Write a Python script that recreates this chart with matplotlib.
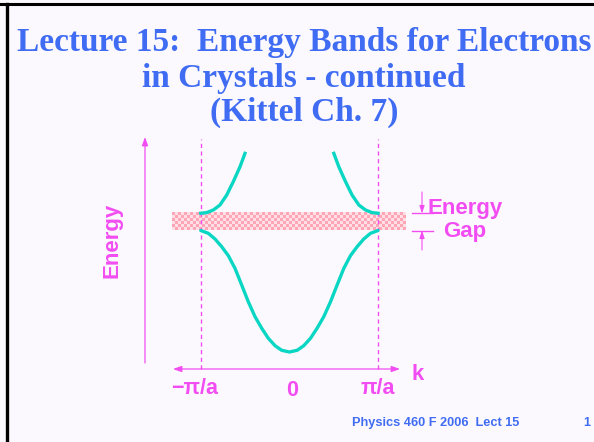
import numpy as np
import matplotlib
matplotlib.use("Agg")
import matplotlib.pyplot as plt
from matplotlib.lines import Line2D

# ---- data (k in units of pi/a, energy in arbitrary units) ----
lower_k = [-1.0, -0.915, -0.839, -0.764, -0.689, -0.614, -0.538, -0.464, -0.388,
           -0.312, -0.238, -0.162, -0.087, 0.0,
           0.087, 0.162, 0.238, 0.312, 0.388, 0.464, 0.538, 0.614, 0.689,
           0.764, 0.839, 0.915, 1.0]
lower_E = [1.0, 0.977, 0.930, 0.867, 0.793, 0.689, 0.551, 0.414, 0.291,
           0.195, 0.113, 0.052, 0.014, 0.0,
           0.014, 0.052, 0.113, 0.195, 0.291, 0.414, 0.551, 0.689, 0.793,
           0.867, 0.930, 0.977, 1.0]
upper_left_k = [-1.0, -0.933, -0.858, -0.783, -0.707, -0.633, -0.557, -0.501]
upper_left_E = [1.142, 1.147, 1.169, 1.210, 1.292, 1.402, 1.525, 1.635]
upper_right_k = [1.0, 0.933, 0.858, 0.783, 0.707, 0.633, 0.557, 0.501]
upper_right_E = [1.142, 1.147, 1.169, 1.210, 1.292, 1.402, 1.525, 1.635]
gap_bottom, gap_top = 1.0, 1.14
zone_edges = [-1.0, 1.0]
tick_k = [-1.0, 0.0, 1.0]
tick_labels = ["\u2212\u03c0/a", "0", "\u03c0/a"]

title_lines = ["Lecture 15:  Energy Bands for Electrons",
               "in Crystals - continued",
               "(Kittel Ch. 7)"]
footer_text = "Physics 460 F 2006  Lect 15"
page_number = "1"

# ---- style ----
BG = "#FCF9FE"
BLUE = "#3F6CF2"
MAG = "#F24DF2"
TEAL = "#0AD6C4"
PINK = np.array([255, 166, 182]) / 255
LIGHT = np.array([255, 222, 230]) / 255

W, H = 594, 442
fig = plt.figure(figsize=(W / 100, H / 100), dpi=100, facecolor=BG)

# frame (top and left edges)
fig.add_artist(Line2D([0, 1], [1 - 3.5 / H, 1 - 3.5 / H], color="black", lw=2.2,
                      transform=fig.transFigure))
fig.add_artist(Line2D([7 / W, 7 / W], [0, 1 - 3.5 / H], color="black", lw=2.4,
                      transform=fig.transFigure))

# title
serif = ["Liberation Serif", "DejaVu Serif"]
for i, (line, yy) in enumerate(zip(title_lines, [43, 79, 112])):
    fig.text(304 / W, 1 - yy / H, line, ha="center", va="center", color=BLUE,
             fontsize=24, fontweight="bold", family=serif)

# footer
sans = ["Liberation Sans", "DejaVu Sans"]
fig.text(436 / W, 1 - 423 / H, footer_text, ha="center", va="center", color=BLUE,
         fontsize=9.2, fontweight="bold", family=sans)
fig.text(587 / W, 1 - 423 / H, page_number, ha="center", va="center", color=BLUE,
         fontsize=9.2, fontweight="bold", family=sans)

# data axes: k -> x px = 289.4 + 88.65 k ; E -> y px = 352 - 121.5 E
x0, px_k = 289.4, 88.65
y0, px_E = 352.0, 121.5
klim = (-1.7, 1.35)
Elim = (-0.2, 1.8)
left = (x0 + klim[0] * px_k) / W
right = (x0 + klim[1] * px_k) / W
top = (y0 - Elim[1] * px_E)
bot = (y0 - Elim[0] * px_E)
ax = fig.add_axes([left, 1 - bot / H, right - left, (bot - top) / H])
ax.set_xlim(klim)
ax.set_ylim(Elim)
ax.axis("off")

# checkered gap band
band_k0, band_k1 = -1.324, 1.315
ncols = int(round((band_k1 - band_k0) * px_k / 3))
nrows = int(round((gap_top - gap_bottom) * px_E / 3))
ii, jj = np.indices((nrows, ncols))
mask = (ii + jj) % 2 == 0
img = np.where(mask[..., None], PINK, LIGHT)
ax.imshow(img, extent=[band_k0, band_k1, gap_bottom, gap_top], aspect="auto",
          interpolation="nearest", zorder=1, clip_on=False)

# zone-boundary dashed lines
for kk in zone_edges:
    ax.plot([kk, kk], [-0.14, 1.75], color=MAG, lw=1.0, ls=(0, (3, 2.5)), zorder=2,
            clip_on=False)

# bands
ax.plot(lower_k, lower_E, color=TEAL, lw=2.4, zorder=3, solid_capstyle="round")
ax.plot(upper_left_k, upper_left_E, color=TEAL, lw=2.4, zorder=3)
ax.plot(upper_right_k, upper_right_E, color=TEAL, lw=2.4, zorder=3)

# axes arrows
k_vert = (145 - x0) / px_k
E_haxis = (y0 - 369) / px_E
ax.annotate("", xy=(k_vert, (y0 - 137) / px_E), xytext=(k_vert, (y0 - 363) / px_E),
            arrowprops=dict(arrowstyle="-|>,head_length=0.5,head_width=0.18",
                            color=MAG, lw=0.9, shrinkA=0, shrinkB=0),
            annotation_clip=False)
ax.annotate("", xy=((400 - x0) / px_k, E_haxis), xytext=((173 - x0) / px_k, E_haxis),
            arrowprops=dict(arrowstyle="<|-|>,head_length=0.5,head_width=0.18",
                            color=MAG, lw=0.9, shrinkA=0, shrinkB=0),
            annotation_clip=False)

# tick labels
for kk, lab, yy in zip(tick_k, tick_labels, [388, 391, 388]):
    xoff = -6 if kk < 0 else (3 if kk == 0 else 0)
    ax.text(kk + xoff / px_k, (y0 - yy) / px_E, lab, ha="center", va="center",
            color=MAG, fontsize=15.5, fontweight="bold", family=sans, clip_on=False)
ax.text((418 - x0) / px_k, (y0 - 374) / px_E, "k", ha="center", va="center",
        color=MAG, fontsize=16, fontweight="bold", family=sans, clip_on=False)
ax.text((112 - x0) / px_k, (y0 - 240) / px_E, "Energy", ha="center", va="center",
        rotation=90, color=MAG, fontsize=16, fontweight="bold", family=sans,
        clip_on=False)

# energy gap marker
gk0, gk1 = (412 - x0) / px_k, (433 - x0) / px_k
ka = (422 - x0) / px_k
for ee in [gap_bottom, gap_top]:
    ax.plot([gk0, gk1], [ee, ee], color=MAG, lw=1.0, clip_on=False)
ax.annotate("", xy=(ka, gap_top), xytext=(ka, (y0 - 192) / px_E),
            arrowprops=dict(arrowstyle="-|>,head_length=0.45,head_width=0.15",
                            color=MAG, lw=0.8, shrinkA=0, shrinkB=0),
            annotation_clip=False)
ax.annotate("", xy=(ka, gap_bottom), xytext=(ka, (y0 - 250) / px_E),
            arrowprops=dict(arrowstyle="-|>,head_length=0.45,head_width=0.15",
                            color=MAG, lw=0.8, shrinkA=0, shrinkB=0),
            annotation_clip=False)
ax.text((465 - x0) / px_k, (y0 - 209) / px_E, "Energy", ha="center", va="center",
        color=MAG, fontsize=16, fontweight="bold", family=sans, clip_on=False)
ax.text((465 - x0) / px_k, (y0 - 232) / px_E, "Gap", ha="center", va="center",
        color=MAG, fontsize=16, fontweight="bold", family=sans, clip_on=False)

fig.savefig("out.png", dpi=100, facecolor=BG)
